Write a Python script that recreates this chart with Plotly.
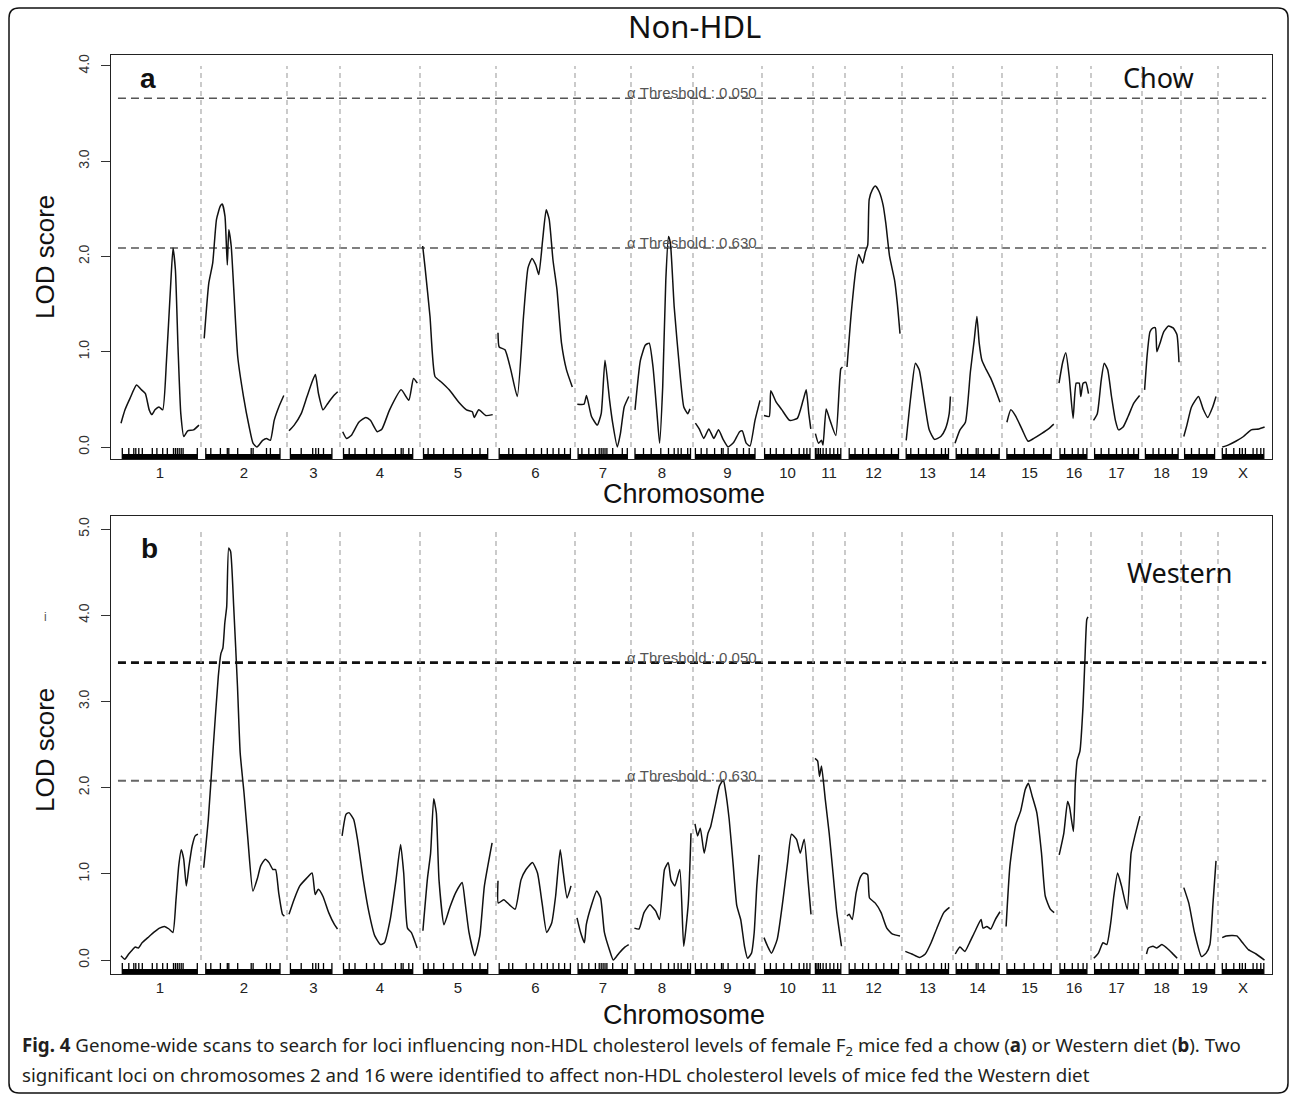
import plotly.graph_objects as go

# ---------------- data ----------------
chrom_names = ["1", "2", "3", "4", "5", "6", "7", "8", "9", "10",
               "11", "12", "13", "14", "15", "16", "17", "18", "19", "X"]
chrom_len_cM = [78, 82, 49, 76, 72, 75, 52, 58, 65, 47, 28, 53, 47, 45, 51, 30, 47, 35, 33, 46]
chrom_gap_cM = 4

chow_pos = [
    [0, 4, 9, 15.5, 20.5, 24.4, 28.2, 31, 34, 38, 41.7, 45.5, 49.4, 52, 54.4, 57, 59.8, 62.8, 66.7, 72.5, 78],
    [1.2, 5.8, 9.7, 13.5, 17.4, 19.3, 22, 24.3, 25.8, 28.2, 30.8, 34.7, 40.5, 46.2, 50, 53.9, 59.7, 63.5, 67.4, 71.2, 75.8, 80.8],
    [0, 5.2, 12.2, 18, 23.7, 26.4, 29.5, 34, 39, 44.8, 48.7],
    [0.7, 4.5, 9.2, 16.8, 23.8, 28.4, 35.3, 40, 47.6, 59.2, 66.8, 71.5, 75.3],
    [0.7, 3, 8, 13, 19.5, 27.2, 36.8, 44.5, 50.3, 52.2, 56.8, 63.8, 70.7],
    [0, 1.2, 7, 12.8, 19.3, 25.5, 30, 34, 37.8, 40.8, 44.7, 48.2, 51.2, 55, 59, 63.5, 68.5, 74.3],
    [0.3, 7, 9.5, 14.5, 20.3, 24.2, 28, 32.6, 35.7, 40.3, 43.4, 47.2, 51.8],
    [2, 7.4, 12.4, 16.2, 20, 24, 26.6, 29.7, 32.8, 35.5, 37.4, 41.2, 47, 50.8, 54.7, 57],
    [0.4, 4.2, 8.8, 13.8, 18.8, 23.5, 28.1, 33.1, 38.8, 44.6, 47.3, 51.2, 55, 60, 65],
    [0, 5.2, 6.8, 12.2, 17.9, 25.6, 33.3, 39.1, 42.2, 44.8, 46.8],
    [0.4, 3.5, 6.5, 8, 11.2, 15, 20.8, 25.8, 27.5],
    [0, 4.2, 9.2, 11.8, 15.7, 18.4, 20.7, 22.2, 25.3, 28.4, 32.2, 36.1, 38.8, 42.6, 47.6, 50.3, 53],
    [2.2, 6.8, 11.4, 15.2, 20.2, 25.2, 30.6, 36.8, 41.4, 45.2, 46.4],
    [0, 5, 10.4, 15.4, 19.2, 21.9, 24.2, 26.9, 30.8, 35.8, 40.4, 45],
    [2.9, 6.8, 11.4, 18.3, 24.1, 29.8, 37.5, 44.5, 49.8],
    [0, 3.7, 6.8, 10.2, 14.1, 17.2, 20.2, 21.8, 24.1, 26.8, 29.5],
    [0.5, 4.3, 8.2, 11.2, 14.7, 18.5, 22.4, 25.5, 30.1, 35.1, 40.8, 46.6],
    [0.6, 3.3, 6, 9.1, 11.4, 12.9, 16, 19.8, 24.5, 29.1, 32.9, 35],
    [0.8, 3.9, 8.5, 15.5, 20.1, 24.7, 29.7, 33],
    [2.3, 8.1, 15.8, 23.5, 31.2, 38.8, 44.6],
]
chow_lod = [
    [0.25, 0.39, 0.51, 0.65, 0.60, 0.56, 0.39, 0.34, 0.39, 0.42, 0.39, 0.91, 1.65, 2.09, 1.86, 1.05, 0.35, 0.11, 0.17, 0.18, 0.23],
    [1.14, 1.72, 1.93, 2.39, 2.53, 2.55, 2.42, 1.91, 2.28, 2.11, 1.65, 0.95, 0.53, 0.21, 0.04, 0.0, 0.07, 0.09, 0.07, 0.28, 0.42, 0.54],
    [0.17, 0.23, 0.35, 0.53, 0.70, 0.76, 0.56, 0.39, 0.46, 0.54, 0.58],
    [0.16, 0.09, 0.12, 0.26, 0.31, 0.28, 0.16, 0.19, 0.39, 0.60, 0.49, 0.72, 0.67],
    [2.11, 1.89, 1.37, 0.74, 0.68, 0.60, 0.47, 0.39, 0.37, 0.31, 0.39, 0.33, 0.34],
    [1.20, 1.05, 1.02, 0.81, 0.53, 1.37, 1.88, 1.98, 1.91, 1.81, 2.18, 2.49, 2.39, 1.96, 1.65, 1.09, 0.81, 0.63],
    [0.45, 0.45, 0.54, 0.32, 0.23, 0.35, 0.91, 0.49, 0.25, 0.0, 0.14, 0.42, 0.53],
    [0.39, 0.91, 1.07, 1.09, 0.84, 0.35, 0.04, 0.63, 1.75, 2.21, 2.14, 1.47, 0.77, 0.42, 0.35, 0.40],
    [0.25, 0.19, 0.09, 0.19, 0.09, 0.18, 0.08, 0.0, 0.05, 0.16, 0.17, 0.04, 0.01, 0.28, 0.49],
    [0.33, 0.32, 0.59, 0.47, 0.39, 0.28, 0.30, 0.49, 0.60, 0.35, 0.19],
    [0.14, 0.04, 0.07, 0.02, 0.40, 0.28, 0.12, 0.82, 0.84],
    [0.84, 1.40, 1.89, 2.02, 1.93, 2.05, 2.12, 2.60, 2.70, 2.74, 2.68, 2.54, 2.35, 2.00, 1.75, 1.51, 1.19],
    [0.07, 0.53, 0.88, 0.81, 0.49, 0.18, 0.08, 0.11, 0.19, 0.35, 0.53],
    [0.04, 0.18, 0.26, 0.79, 1.12, 1.37, 1.09, 0.91, 0.82, 0.72, 0.60, 0.47],
    [0.26, 0.39, 0.33, 0.18, 0.06, 0.09, 0.14, 0.19, 0.24],
    [0.67, 0.89, 0.99, 0.74, 0.30, 0.67, 0.67, 0.53, 0.67, 0.68, 0.56],
    [0.28, 0.35, 0.70, 0.88, 0.81, 0.53, 0.28, 0.18, 0.21, 0.32, 0.46, 0.54],
    [0.60, 0.98, 1.21, 1.25, 1.25, 1.00, 1.09, 1.21, 1.27, 1.25, 1.18, 0.89],
    [0.11, 0.23, 0.42, 0.53, 0.40, 0.31, 0.42, 0.53],
    [0.0, 0.02, 0.06, 0.11, 0.18, 0.19, 0.21],
]

western_pos = [
    [0, 3.8, 7.7, 11.5, 14.2, 17.3, 21.1, 26.9, 32.7, 38.5, 43.5, 48, 51.9, 55, 57.7, 60.3, 62.7, 65.3, 68, 71.1, 74.2, 76.9],
    [0.7, 5.3, 10.3, 15.3, 18, 19.9, 21.8, 23.7, 25.7, 27.6, 30.7, 34.5, 37.2, 41, 44.9, 49.9, 54.5, 57.6, 62.2, 66, 69.9, 72.6, 75.7, 79.5, 81.4],
    [0, 5, 10.8, 17.7, 23.1, 26.2, 29.3, 33.9, 39.7, 45.5, 48.5],
    [0.1, 4, 7, 11.7, 15.5, 21.3, 27, 32.8, 38.6, 42.4, 48.2, 54, 58.6, 61.7, 65.5, 69.3, 75.1],
    [0.9, 5.5, 8.6, 11.7, 14.3, 17, 22, 27.8, 33.6, 40.1, 43.2, 47, 52.8, 57.8, 62.4, 70.1],
    [0, 0.3, 5.7, 11.5, 17.2, 23, 28, 34.5, 39.5, 44.1, 48.7, 53.7, 57.6, 62.2, 65.3, 69.1, 73],
    [0, 3.6, 7.4, 9.3, 14.3, 19.7, 23.6, 27.4, 32.4, 36.3, 42, 47.8, 51.7],
    [1.4, 6, 11, 16.8, 22.6, 26.5, 31.5, 35.3, 38, 41.8, 46.8, 50.7, 55.3, 58],
    [0, 2.6, 5.3, 9.2, 13, 15.7, 20.7, 24.5, 28.4, 30.3, 34.2, 38, 41.8, 45.7, 49.5, 52.6, 56.5, 59.2, 61.8, 64.2],
    [0, 3.6, 7.5, 13.2, 19, 23.6, 27.5, 32.5, 36.3, 40.2, 44, 47],
    [0, 2.6, 4.5, 6.5, 10.3, 14.2, 18, 21.8, 26.5],
    [0, 2.2, 5.2, 9.1, 13.7, 16.8, 20.6, 22.5, 28.3, 34.1, 39.8, 45.6, 53],
    [1.3, 7.8, 15.5, 21.3, 27.1, 33.6, 39.8, 45.5],
    [0.3, 4.9, 9.9, 14.5, 20.3, 26.1, 28, 31.8, 35.7, 40.3, 45],
    [2.1, 5.9, 11.7, 16.7, 21.3, 24.4, 28.2, 32.8, 37.5, 41.3, 46.3, 50.2],
    [0.2, 4.8, 8.6, 10.5, 14.4, 16.3, 18.2, 20.9, 24, 25.9, 27.8, 29],
    [0.8, 5.4, 10, 13.8, 17.7, 20.8, 24.6, 28.5, 34.2, 38.1, 41.9, 46.9],
    [2.5, 4.4, 9, 12.8, 17.8, 22.8, 28.2, 33.2],
    [0.8, 5.8, 11.5, 18.5, 23.1, 26.9, 30, 33],
    [2.2, 6.1, 16.8, 22.6, 28.4, 36.1, 44.5],
]
western_lod = [
    [0.05, 0.01, 0.07, 0.12, 0.15, 0.14, 0.20, 0.26, 0.32, 0.37, 0.39, 0.36, 0.32, 0.70, 1.09, 1.28, 1.17, 0.86, 1.09, 1.32, 1.44, 1.46],
    [1.07, 1.63, 2.48, 3.29, 3.56, 3.62, 3.91, 4.10, 4.78, 4.74, 4.10, 3.17, 2.40, 1.94, 1.40, 0.80, 0.95, 1.09, 1.17, 1.13, 1.05, 1.05, 0.78, 0.53, 0.51],
    [0.53, 0.70, 0.86, 0.95, 1.01, 0.76, 0.82, 0.74, 0.55, 0.41, 0.36],
    [1.44, 1.69, 1.71, 1.63, 1.40, 0.93, 0.55, 0.28, 0.18, 0.20, 0.47, 0.93, 1.34, 1.01, 0.37, 0.32, 0.14],
    [0.34, 0.95, 1.24, 1.87, 1.71, 0.93, 0.41, 0.61, 0.78, 0.90, 0.66, 0.32, 0.05, 0.28, 0.86, 1.36],
    [0.92, 0.66, 0.70, 0.64, 0.59, 0.93, 1.05, 1.13, 1.01, 0.66, 0.32, 0.43, 0.74, 1.28, 1.01, 0.72, 0.86],
    [0.49, 0.32, 0.20, 0.41, 0.63, 0.80, 0.72, 0.32, 0.12, 0.0, 0.08, 0.15, 0.18],
    [0.37, 0.36, 0.55, 0.64, 0.57, 0.47, 1.05, 1.13, 0.93, 0.86, 1.05, 0.16, 0.66, 1.47],
    [1.58, 1.44, 1.53, 1.24, 1.47, 1.55, 1.82, 2.02, 2.09, 1.98, 1.63, 1.13, 0.63, 0.47, 0.16, 0.02, 0.08, 0.32, 0.86, 1.22],
    [0.26, 0.16, 0.08, 0.24, 0.70, 1.13, 1.46, 1.40, 1.24, 1.40, 0.93, 0.53],
    [2.34, 2.31, 2.13, 2.25, 1.86, 1.47, 1.01, 0.55, 0.16],
    [0.51, 0.53, 0.47, 0.78, 0.97, 1.01, 0.99, 0.72, 0.66, 0.55, 0.37, 0.30, 0.28],
    [0.10, 0.07, 0.03, 0.07, 0.20, 0.39, 0.55, 0.61],
    [0.07, 0.15, 0.10, 0.20, 0.34, 0.47, 0.37, 0.39, 0.36, 0.47, 0.56],
    [0.39, 1.09, 1.57, 1.73, 1.98, 2.05, 1.90, 1.71, 1.24, 0.74, 0.59, 0.55],
    [1.22, 1.47, 1.84, 1.78, 1.49, 2.05, 2.32, 2.42, 2.94, 3.48, 3.95, 3.98],
    [0.02, 0.08, 0.20, 0.18, 0.43, 0.74, 1.01, 0.86, 0.59, 1.24, 1.44, 1.67],
    [0.07, 0.14, 0.16, 0.14, 0.18, 0.14, 0.08, 0.02],
    [0.84, 0.66, 0.32, 0.04, 0.08, 0.18, 0.66, 1.15],
    [0.26, 0.28, 0.28, 0.20, 0.12, 0.07, 0.0],
]

marker_pos = [
    [1.3, 7.8, 12.8, 14.8, 17.8, 21.3, 31.3, 35.9, 41.7, 46.3, 52.5, 54.4, 56.3, 58.2, 60.2, 62.1, 76.3],
    [2.8, 7.8, 17.4, 24.3, 25.8, 34.7, 48.2, 50.1, 63.5, 67.4, 77],
    [1.4, 12.2, 23.7, 26.8, 29.5, 34.5, 42.9],
    [1.5, 7.2, 13, 24.5, 32.2, 39.9, 53.4, 59.2, 61.1, 66.8, 70.7],
    [1.5, 6.1, 11.8, 21.5, 31.1, 40.7, 50.3, 58, 65.7],
    [1.2, 10.8, 14.7, 28.2, 35.8, 43.5, 49.3, 55.1, 60.8, 66.6, 72.4],
    [1.1, 4.9, 11.8, 18.4, 22.2, 24.2, 26.1, 28, 29.9, 35.7, 45.3, 50.3],
    [2, 10.5, 18.2, 27.8, 35.5, 41.2, 45.1, 48.2, 54.7, 57.5],
    [0.4, 6.2, 11.9, 19.6, 26.5, 28.1, 33.1, 41.9, 48.5, 54.2, 60],
    [0.6, 6.4, 12.2, 19.8, 27.5, 35.2, 39.8, 42.9, 46],
    [0.4, 1.9, 3.5, 5.4, 8.1, 11.2, 15, 18.8, 22.7, 25.8],
    [2.2, 8, 15.7, 21.5, 29.2, 36.8, 44.5, 51.5],
    [2.2, 6.8, 14.5, 22.2, 29.8, 37.5, 41.4, 44.5],
    [1.2, 6.5, 12.7, 21.2, 23.1, 28.8, 36.5, 44.2],
    [2.9, 10.6, 20.2, 29.8, 39.5, 47.2],
    [1, 5.6, 13.3, 19.1, 24.1, 27.9],
    [1.6, 8.2, 15.8, 23.5, 29.3, 35.1, 40.8, 45.5],
    [1.4, 9.1, 14.8, 21.4, 28.3, 34.1],
    [1.6, 8.5, 16.2, 23.9, 31.6],
    [2.3, 6.2, 13.8, 19.6, 22.3, 25.4, 33.1, 36.9, 40.8, 43.8],
]

chow_thresholds = [3.66, 2.09]
western_thresholds = [3.45, 2.08]
threshold_alpha = ["0.050", "0.630"]

caption_line1 = ("<b>Fig. 4</b> Genome-wide scans to search for loci influencing non-HDL cholesterol levels "
                 "of female F<sub>2</sub> mice fed a chow (<b>a</b>) or Western diet (<b>b</b>). Two")
caption_line2 = ("significant loci on chromosomes 2 and 16 were identified to affect non-HDL cholesterol "
                 "levels of mice fed the Western diet")

# ---------------- geometry helpers ----------------
W, H = 1290, 1096
offsets = []
acc = 0
for L in chrom_len_cM:
    offsets.append(acc)
    acc += L + chrom_gap_cM
x_end = offsets[-1] + chrom_len_cM[-1]
x_range = [-10, x_end + 6]
centers = [o + L / 2 for o, L in zip(offsets, chrom_len_cM)]
dividers = [offsets[i] + chrom_len_cM[i] + chrom_gap_cM / 2 for i in range(len(chrom_len_cM) - 1)]


def px_x(p):
    return p / W


def px_y(p):
    return 1 - p / H


panels = [
    dict(pos=chow_pos, lod=chow_lod, thr=chow_thresholds, yr=[-0.126, 4.115], ytop=4,
         dom=[px_y(459), px_y(55)], xa="x", ya="y", hpx=404,
         thr_style=[dict(color="#555555", width=1.5), dict(color="#555555", width=1.5)]),
    dict(pos=western_pos, lod=western_lod, thr=western_thresholds, yr=[-0.162, 5.151], ytop=5,
         dom=[px_y(974), px_y(516)], xa="x2", ya="y2", hpx=458,
         thr_style=[dict(color="#111111", width=2.6), dict(color="#666666", width=1.8)]),
]

fig = go.Figure()
shapes = []
annotations = []

for pi, P in enumerate(panels):
    # LOD curve
    xs, ys = [], []
    for ci in range(len(chrom_names)):
        for p, v in zip(P["pos"][ci], P["lod"][ci]):
            xs.append(offsets[ci] + p)
            ys.append(v)
        xs.append(None)
        ys.append(None)
    fig.add_trace(go.Scatter(x=xs, y=ys, mode="lines", xaxis=P["xa"], yaxis=P["ya"],
                             line=dict(color="#111111", width=1.5, shape="spline", smoothing=0.5),
                             hoverinfo="skip", showlegend=False))
    # rug
    span = P["yr"][1] - P["yr"][0]
    per_px = span / P["hpx"]
    y_bot = P["yr"][0]
    y_tick = y_bot + 11 * per_px
    y_band = y_bot + 5 * per_px
    rx, ry = [], []
    for ci in range(len(chrom_names)):
        for m in marker_pos[ci]:
            rx += [offsets[ci] + m, offsets[ci] + m, None]
            ry += [y_bot, y_tick, None]
    fig.add_trace(go.Scatter(x=rx, y=ry, mode="lines", xaxis=P["xa"], yaxis=P["ya"],
                             line=dict(color="#000000", width=1.3),
                             hoverinfo="skip", showlegend=False))
    for ci in range(len(chrom_names)):
        shapes.append(dict(type="rect", xref=P["xa"], yref=P["ya"],
                           x0=offsets[ci] + min(marker_pos[ci]), x1=offsets[ci] + max(marker_pos[ci]),
                           y0=y_bot, y1=y_band, fillcolor="#000000", line=dict(width=0), layer="above"))
    # chromosome dividers
    for d in dividers:
        shapes.append(dict(type="line", xref=P["xa"], yref=P["ya"], x0=d, x1=d, y0=0, y1=P["ytop"],
                           line=dict(color="#a8a8a8", width=1.2, dash="5px,4px"), layer="below"))
    # thresholds
    for ti, t in enumerate(P["thr"]):
        st = P["thr_style"][ti]
        shapes.append(dict(type="line", xref=P["xa"] + " domain", yref=P["ya"], x0=0.006, x1=0.995,
                           y0=t, y1=t, line=dict(color=st["color"], width=st["width"], dash="8px,5px"),
                           layer="below"))
        annotations.append(dict(xref=P["xa"] + " domain", yref=P["ya"], x=0.5, y=t,
                                text="\u03b1 Threshold : " + threshold_alpha[ti],
                                showarrow=False, yanchor="bottom", yshift=-5,
                                font=dict(family="Liberation Sans", size=15, color="#555555")))

axis_common = dict(showline=True, mirror=True, linecolor="#222222", linewidth=1.3,
                   showgrid=False, zeroline=False)
xdom = [px_x(111), px_x(1272)]
fig.update_layout(
    width=W, height=H, margin=dict(l=0, r=0, t=0, b=0),
    paper_bgcolor="white", plot_bgcolor="white", showlegend=False,
    xaxis=dict(domain=xdom, range=x_range, anchor="y", tickvals=centers, ticktext=chrom_names,
               ticks="", tickfont=dict(family="Liberation Sans", size=15, color="#222222"), **axis_common),
    yaxis=dict(domain=panels[0]["dom"], range=panels[0]["yr"], anchor="x",
               tickvals=[0, 1, 2, 3, 4], tickformat=".1f", tickangle=-90, ticks="outside", ticklen=9,
               tickcolor="#333333", ticklabelstandoff=6,
               tickfont=dict(family="Liberation Sans", size=14, color="#333333"), **axis_common),
    xaxis2=dict(domain=xdom, range=x_range, anchor="y2", tickvals=centers, ticktext=chrom_names,
                ticks="", tickfont=dict(family="Liberation Sans", size=15, color="#222222"), **axis_common),
    yaxis2=dict(domain=panels[1]["dom"], range=panels[1]["yr"], anchor="x2",
                tickvals=[0, 1, 2, 3, 4, 5], tickformat=".1f", tickangle=-90, ticks="outside", ticklen=9,
                tickcolor="#333333", ticklabelstandoff=6,
                tickfont=dict(family="Liberation Sans", size=14, color="#333333"), **axis_common),
)


def ann(x, y, text, size, family="Liberation Sans", color="#111111", angle=0, xanchor="center", yanchor="middle"):
    annotations.append(dict(xref="paper", yref="paper", x=px_x(x), y=px_y(y), text=text,
                            showarrow=False, textangle=angle, xanchor=xanchor, yanchor=yanchor,
                            font=dict(family=family, size=size, color=color)))


ann(694, 26, "Non-HDL", 31, family="Noto Sans")
ann(148, 78, "<b>a</b>", 28)
ann(149, 548, "<b>b</b>", 28)
ann(1158, 77, "Chow", 27, family="Noto Sans")
ann(1180, 572, "Western", 27, family="Noto Sans")
ann(45, 257, "LOD score", 26, angle=-90)
ann(45, 750, "LOD score", 26, angle=-90)
ann(684, 494, "Chromosome", 27)
ann(684, 1015, "Chromosome", 27)
ann(45, 617, "i", 12, color="#555555")
ann(20, 1046, caption_line1, 18.7, family="Noto Sans", color="#231f20", xanchor="left")
ann(20, 1074, caption_line2, 18.7, family="Noto Sans", color="#231f20", xanchor="left")

# rounded outer border
l, t, r, b, rad = 9, 8, 1288, 1093, 10
path = (f"M {px_x(l + rad)},{px_y(t)} L {px_x(r - rad)},{px_y(t)} "
        f"Q {px_x(r)},{px_y(t)} {px_x(r)},{px_y(t + rad)} L {px_x(r)},{px_y(b - rad)} "
        f"Q {px_x(r)},{px_y(b)} {px_x(r - rad)},{px_y(b)} L {px_x(l + rad)},{px_y(b)} "
        f"Q {px_x(l)},{px_y(b)} {px_x(l)},{px_y(b - rad)} L {px_x(l)},{px_y(t + rad)} "
        f"Q {px_x(l)},{px_y(t)} {px_x(l + rad)},{px_y(t)} Z")
shapes.append(dict(type="path", xref="paper", yref="paper", path=path,
                   line=dict(color="#111111", width=1.5), layer="above"))

fig.update_layout(shapes=shapes, annotations=annotations)
fig.write_html("out.html")
